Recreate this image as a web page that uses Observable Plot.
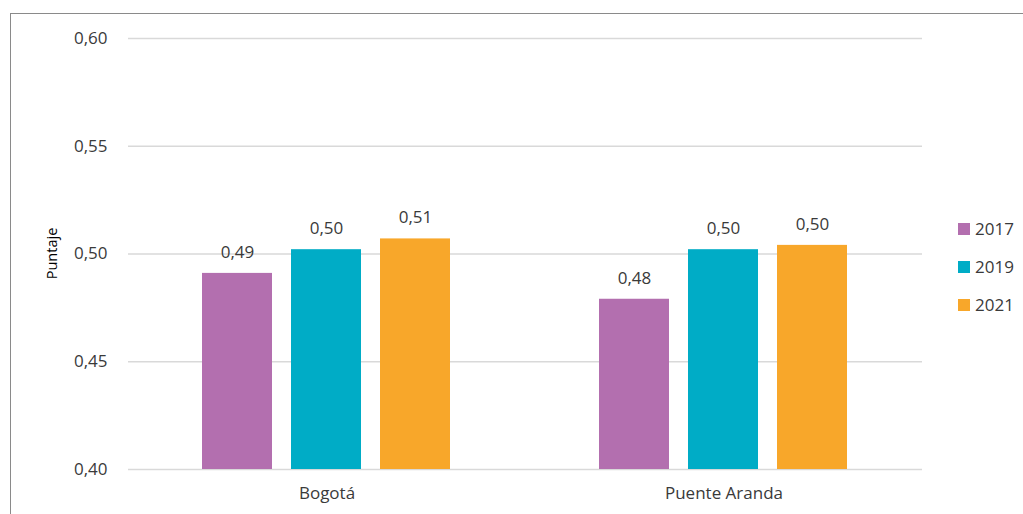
<!DOCTYPE html>
<html>
<head>
<meta charset="utf-8">
<script src="https://cdn.jsdelivr.net/npm/d3@7"></script>
<script src="https://cdn.jsdelivr.net/npm/@observablehq/plot@0.6"></script>
<style>
  html, body { margin: 0; padding: 0; background: #fff; }
  #wrap { position: relative; width: 1023px; height: 514px; overflow: hidden; font-family: "Open Sans", sans-serif; }
  #frame { position: absolute; left: 10px; top: 13px; width: 1100px; height: 600px; border: 1.5px solid #8a8a8a; box-sizing: border-box; pointer-events: none; }
  #legend { position: absolute; left: 958px; top: 218px; font-size: 17px; color: #3a3a3a; }
  #legend .item { display: flex; align-items: center; height: 21px; margin-bottom: 17px; }
  #legend .sw { width: 12px; height: 12px; margin-right: 5px; }
  svg { position: absolute; left: 0; top: 0; }
</style>
</head>
<body>
<div id="wrap"><div id="frame"></div><div id="legend"></div></div>
<script>
const regions = ["Bogotá", "Puente Aranda"];
const years = ["2017", "2019", "2021"];
const values2017 = [0.491, 0.479];
const values2019 = [0.502, 0.502];
const values2021 = [0.507, 0.504];
const colors = ["#B36FAF", "#00ACC6", "#F8A72A"];
const yTicks = [0.40, 0.45, 0.50, 0.55, 0.60];
const yMin = 0.40, yMax = 0.60;

const series = [values2017, values2019, values2021];
const data = [];
regions.forEach((r, i) => years.forEach((y, j) => data.push({region: r, year: y, value: series[j][i]})));
const fmt = v => v.toFixed(2).replace(".", ",");

const chart = Plot.plot({
  width: 1023,
  height: 514,
  marginLeft: 127,
  marginRight: 101,
  marginTop: 38,
  marginBottom: 45,
  style: {fontFamily: "Open Sans, sans-serif", fontSize: "17px", color: "#3a3a3a", background: "transparent"},
  fx: {domain: regions, padding: 0, axis: "bottom", label: null, tickSize: 0, tickPadding: 17},
  x: {domain: years, axis: null, paddingInner: 0.209, paddingOuter: 0.83},
  y: {domain: [yMin, yMax], ticks: yTicks, tickFormat: fmt, tickSize: 0, tickPadding: 21, label: null},
  color: {domain: years, range: colors},
  marks: [
    Plot.ruleY(yTicks, {stroke: "#d9d9d9", strokeWidth: 1.3}),
    Plot.barY(data, {fx: "region", x: "year", y1: () => yMin, y2: "value", fill: "year"}),
    Plot.text(data, {fx: "region", x: "year", y: "value", text: d => fmt(d.value), dy: -21, fontSize: 17, fill: "#3a3a3a"})
  ]
});
document.getElementById("wrap").appendChild(chart);

// y-axis title
const svg = d3.select(chart);
svg.append("text")
  .attr("transform", `translate(57,${(38 + (514 - 45)) / 2}) rotate(-90)`)
  .attr("text-anchor", "middle")
  .attr("font-size", 14.5)
  .attr("fill", "#000")
  .text("Puntaje");

const legend = document.getElementById("legend");
years.forEach((y, i) => {
  const it = document.createElement("div");
  it.className = "item";
  it.innerHTML = `<div class="sw" style="background:${colors[i]}"></div><span>${y}</span>`;
  legend.appendChild(it);
});
</script>
</body>
</html>
